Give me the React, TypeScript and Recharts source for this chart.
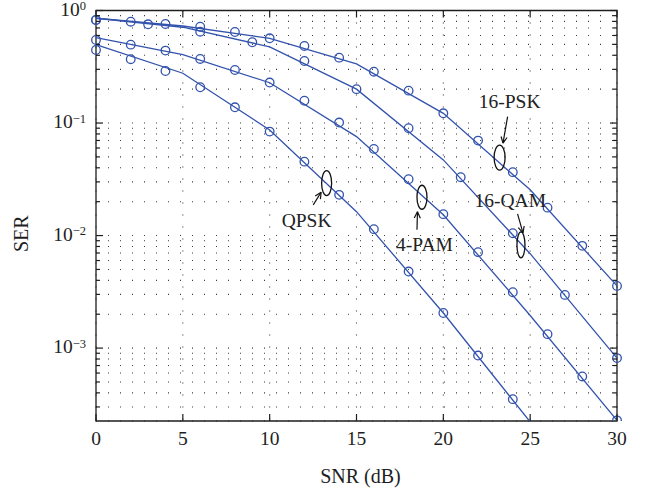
import { LineChart, Line, XAxis, YAxis, CartesianGrid, ReferenceArea, ReferenceDot } from 'recharts'

// SNR steps: analytic curves every 5 dB, simulated points at 2 dB / 3 dB steps
const snrTheory = [0, 5, 10, 15, 20, 25, 30]
const snrEven = [0, 2, 4, 6, 8, 10, 12, 14, 16, 18, 20, 22, 24, 26, 28, 30]
const snrEvery3 = [0, 3, 6, 9, 12, 15, 18, 21, 24, 27, 30]
const snrQpsk = [0, 2, 4, 6, 8, 10, 12, 14, 16, 18, 20, 22, 24]

// analytic SER (solid lines)
const psk16Theory = [0.853, 0.728, 0.566, 0.335, 0.122, 0.0255, 0.00357]
const qam16Theory = [0.853, 0.71, 0.475, 0.2, 0.047, 0.0069, 0.000815]
const pam4Theory = [0.574, 0.405, 0.228, 0.0757, 0.0153, 0.00195, 0.000228]
const qpskTheory = [0.497, 0.277, 0.0868, 0.0163, 0.00205, 0.000221, null]

// simulated SER (circles)
const psk16Sim = [0.823, 0.795, 0.759, 0.718, 0.644, 0.566, 0.484, 0.381, 0.286, 0.194, 0.122, 0.0698, 0.0366, 0.0177, 0.0081, 0.00357]
const qam16Sim = [0.823, 0.754, 0.648, 0.522, 0.356, 0.2, 0.0899, 0.033, 0.0105, 0.00297, 0.000815]
const pam4Sim = [0.547, 0.497, 0.44, 0.371, 0.296, 0.229, 0.158, 0.101, 0.0589, 0.0317, 0.0155, 0.00712, 0.00314, 0.00133, 0.00056, 0.000228]
const qpskSim = [0.446, 0.369, 0.29, 0.208, 0.138, 0.0839, 0.0454, 0.023, 0.0114, 0.00479, 0.00205, 0.000859, 0.000352]

// axes
const xTicks = [0, 5, 10, 15, 20, 25, 30]
const yTicks = [
  0.0003, 0.0004, 0.0005, 0.0006, 0.0007, 0.0008, 0.0009,
  0.001, 0.002, 0.003, 0.004, 0.005, 0.006, 0.007, 0.008, 0.009,
  0.01, 0.02, 0.03, 0.04, 0.05, 0.06, 0.07, 0.08, 0.09,
  0.1, 0.2, 0.3, 0.4, 0.5, 0.6, 0.7, 0.8, 0.9,
  1,
]
const yMajor = [1, 0.1, 0.01, 0.001]
const yMajorExp = ['0', '\u22121', '\u22122', '\u22123']
const YMIN = 0.000225

// curve annotations (ellipse centre in data units)
const annotNames = ['QPSK', '4-PAM', '16-PSK', '16-QAM']
const annotSnr = [13.28, 18.77, 23.24, 24.47]
const annotSer = [0.0292, 0.0219, 0.0493, 0.00826]

// pixel offsets of arrow / label from the ellipse centre
const ANNOT_LAYOUT = [
  { rx: 5, ry: 12.5, tail: [-13.4, 21.7], head: [-5.5, 9], label: [-20, 43.4] },
  { rx: 5, ry: 12, tail: [-5, 32.5], head: [-4.5, 14.5], label: [2.5, 54] },
  { rx: 5.5, ry: 12.5, tail: [8, -41], head: [3.4, -14.4], label: [10, -49.4] },
  { rx: 4, ry: 13, tail: [-3.4, -31], head: [2, -12], label: [-10.7, -38.3] },
]

const W = 649
const H = 488
const MARGIN = { top: 10.5, right: 32, bottom: 0, left: 0 }
const PLOT_TOP = MARGIN.top
const PLOT_RIGHT = W - MARGIN.right
const FONT = '"Liberation Serif", "Times New Roman", serif'
const INK = '#1e1e1e'
const BLUE = '#3353ad'

const toPoints = (xs: number[], ys: (number | null)[]) => xs.map((x, i) => ({ x, v: ys[i] }))

function YTick(props: any) {
  const { x, y, payload } = props
  const i = yMajor.indexOf(payload.value)
  const len = i >= 0 ? 7 : 4
  return (
    <g>
      <line x1={x} x2={x + len} y1={y} y2={y} stroke={INK} strokeWidth={1.2} />
      <line x1={PLOT_RIGHT} x2={PLOT_RIGHT - len} y1={y} y2={y} stroke={INK} strokeWidth={1.2} />
      {i >= 0 && (
        <text x={x - 10} y={y + 5} textAnchor="end" fontFamily={FONT} fontSize={19.5} fill={INK}>
          10<tspan dy={-5.5} fontSize={12.5}>{yMajorExp[i]}</tspan>
        </text>
      )}
    </g>
  )
}

function XTick(props: any) {
  const { x, y, payload } = props
  return (
    <g>
      <line x1={x} x2={x} y1={y} y2={y - 7} stroke={INK} strokeWidth={1.2} />
      <line x1={x} x2={x} y1={PLOT_TOP} y2={PLOT_TOP + 7} stroke={INK} strokeWidth={1.2} />
      <text x={x} y={y + 24} textAnchor="middle" fontFamily={FONT} fontSize={19.5} fill={INK}>
        {payload.value}
      </text>
    </g>
  )
}

function Annotation({ cx, cy, idx }: any) {
  const l = ANNOT_LAYOUT[idx]
  const [tx, ty] = [cx + l.tail[0], cy + l.tail[1]]
  const [hx, hy] = [cx + l.head[0], cy + l.head[1]]
  const ang = Math.atan2(hy - ty, hx - tx)
  const wing = (s: number) => {
    const a = ang + Math.PI + s * 0.45
    return `M${hx + 7 * Math.cos(a)},${hy + 7 * Math.sin(a)} L${hx},${hy}`
  }
  return (
    <g>
      <ellipse cx={cx} cy={cy} rx={l.rx} ry={l.ry} fill="none" stroke="#111" strokeWidth={1.3} />
      <line x1={tx} y1={ty} x2={hx} y2={hy} stroke="#111" strokeWidth={1.2} />
      <path d={`${wing(1)} ${wing(-1)}`} fill="none" stroke="#111" strokeWidth={1.2} />
      <text x={cx + l.label[0]} y={cy + l.label[1]} textAnchor="middle" fontFamily={FONT} fontSize={19.5} fill="#222">
        {annotNames[idx]}
      </text>
    </g>
  )
}

const theory = [
  { name: '16-PSK', xs: snrTheory, ys: psk16Theory },
  { name: '16-QAM', xs: snrTheory, ys: qam16Theory },
  { name: '4-PAM', xs: snrTheory, ys: pam4Theory },
  { name: 'QPSK', xs: snrTheory, ys: qpskTheory },
]
const simulated = [
  { name: '16-PSK sim', xs: snrEven, ys: psk16Sim },
  { name: '16-QAM sim', xs: snrEvery3, ys: qam16Sim },
  { name: '4-PAM sim', xs: snrEven, ys: pam4Sim },
  { name: 'QPSK sim', xs: snrQpsk, ys: qpskSim },
]

export default function App() {
  return (
    <div style={{ position: 'absolute', left: 0, top: 0, width: W, height: H, background: '#fff' }}>
      <LineChart width={W} height={H} margin={MARGIN}>
        <CartesianGrid stroke="#3a3a3a" strokeWidth={1.1} strokeDasharray="1 11" />
        <XAxis
          type="number"
          dataKey="x"
          domain={[0, 30]}
          ticks={xTicks}
          interval={0}
          height={67}
          axisLine={false}
          tickLine={false}
          tickSize={0}
          tickMargin={0}
          tick={(p: any) => <XTick {...p} />}
          label={{
            content: (p: any) => (
              <text
                x={p.viewBox.x + p.viewBox.width / 2 + 4}
                y={p.viewBox.y + 62}
                textAnchor="middle"
                fontFamily={FONT}
                fontSize={20}
                fill={INK}
              >
                SNR (dB)
              </text>
            ),
          }}
        />
        <YAxis
          type="number"
          scale="log"
          domain={[YMIN, 1]}
          allowDataOverflow
          ticks={yTicks}
          interval={0}
          width={96}
          axisLine={false}
          tickLine={false}
          tickSize={0}
          tickMargin={0}
          tick={(p: any) => <YTick {...p} />}
          label={{
            content: (p: any) => {
              const cy = p.viewBox.y + p.viewBox.height / 2 + 18
              return (
                <text
                  x={28}
                  y={cy}
                  transform={`rotate(-90 28 ${cy})`}
                  textAnchor="middle"
                  fontFamily={FONT}
                  fontSize={20}
                  fill={INK}
                >
                  SER
                </text>
              )
            },
          }}
        />
        <ReferenceArea x1={0} x2={30} y1={YMIN} y2={1} fill="none" stroke={INK} strokeWidth={1.3} />
        {theory.map((s) => (
          <Line
            key={s.name}
            data={toPoints(s.xs, s.ys)}
            dataKey="v"
            stroke={BLUE}
            strokeWidth={1.3}
            dot={false}
            activeDot={false}
            isAnimationActive={false}
          />
        ))}
        {simulated.map((s) => (
          <Line
            key={s.name}
            data={toPoints(s.xs, s.ys)}
            dataKey="v"
            stroke="none"
            dot={{ r: 4.3, stroke: BLUE, strokeWidth: 1.3, fill: 'none' }}
            activeDot={false}
            isAnimationActive={false}
          />
        ))}
        {annotNames.map((n, i) => (
          <ReferenceDot
            key={n}
            x={annotSnr[i]}
            y={annotSer[i]}
            r={1}
            shape={(p: any) => <Annotation {...p} idx={i} />}
          />
        ))}
      </LineChart>
    </div>
  )
}
